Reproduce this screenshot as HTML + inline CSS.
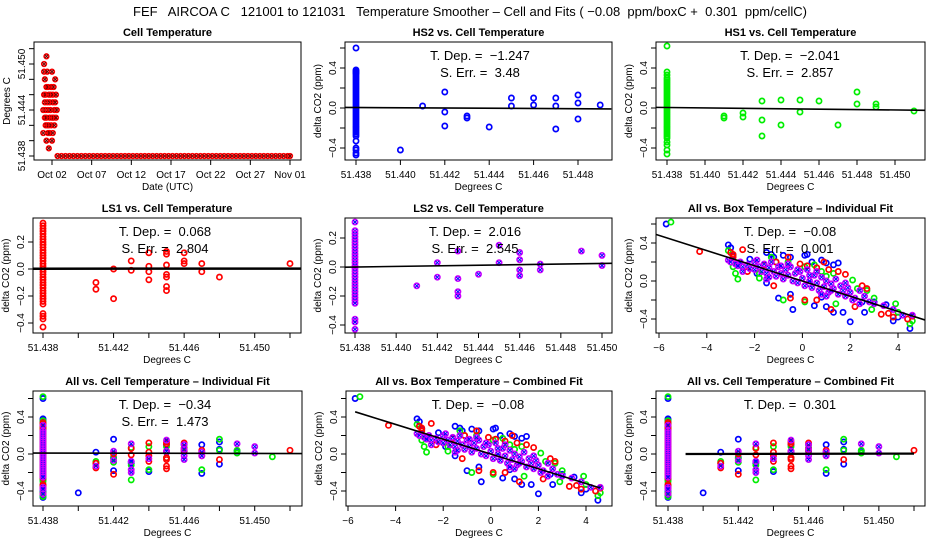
<!DOCTYPE html>
<html><head><meta charset="utf-8"><style>
body{margin:0;background:#fff}
svg{display:block;font-family:"Liberation Sans",sans-serif}
text{white-space:pre}
</style></head><body>
<svg id="c" width="936" height="540" viewBox="0 0 936 540" xmlns="http://www.w3.org/2000/svg" xml:space="preserve">
<rect width="936" height="540" fill="#fff"/>
<text x="470" y="16" font-size="13" text-anchor="middle">FEF   AIRCOA C   121001 to 121031   Temperature Smoother – Cell and Fits ( −0.08  ppm/boxC +  0.301  ppm/cellC)</text>
</svg>
<script>
// ---------- data ----------
const cellDays = [0.9,0.9,1.0,1.0,1.0,1.1,1.1,1.1,1.2,1.2,1.2,1.3,1.3,1.3,1.3,1.4,1.4,1.4,1.5,1.5,1.5,1.6,1.6,1.6,1.7,1.7,1.7,1.8,1.8,1.9,1.9,2.0,2.0,2.0,2.1,2.1,2.1,2.2,2.2,2.3,2.3,2.4,2.4,2.5,2.5,2.6];
const cellTemp = [51.441,51.444,51.446,51.449,51.450,51.443,51.445,51.448,51.442,51.444,51.446,51.440,51.443,51.447,51.451,51.442,51.445,51.449,51.441,51.444,51.447,51.439,51.442,51.446,51.441,51.443,51.445,51.444,51.446,51.442,51.447,51.440,51.443,51.449,51.441,51.445,51.446,51.443,51.447,51.442,51.444,51.448,51.445,51.443,51.446,51.444];
const flatDays = [2.7,3.2,3.7,4.2,4.7,5.2,5.7,6.2,6.7,7.2,7.7,8.2,8.7,9.2,9.7,10.2,10.7,11.2,11.7,12.2,12.7,13.2,13.7,14.2,14.7,15.2,15.7,16.2,16.7,17.2,17.7,18.2,18.7,19.2,19.7,20.2,20.7,21.2,21.7,22.2,22.7,23.2,23.7,24.2,24.7,25.2,25.7,26.2,26.7,27.2,27.7,28.2,28.7,29.2,29.7,30.2,30.7,31.2,31.7,32.0];
const flatTemp = 51.438;
const dayTicks = [2,7,12,17,22,27,32];
const dayLabels = ["Oct 02","Oct 07","Oct 12","Oct 17","Oct 22","Oct 27","Nov 01"];

const colY_hs2 = [0.6,0.38,0.37,0.36,0.35,0.34,0.32,0.3,0.28,0.26,0.24,0.22,0.2,0.18,0.16,0.14,0.12,0.1,0.08,0.06,0.04,0.02,0,-0.02,-0.04,-0.06,-0.08,-0.1,-0.12,-0.14,-0.16,-0.18,-0.2,-0.22,-0.24,-0.26,-0.28,-0.33,-0.4,-0.42,-0.45,-0.47];
const colY_hs1 = [0.62,0.36,0.33,0.3,0.28,0.26,0.24,0.22,0.2,0.18,0.16,0.14,0.12,0.1,0.08,0.06,0.04,0.02,0,-0.02,-0.04,-0.06,-0.08,-0.1,-0.12,-0.14,-0.16,-0.18,-0.2,-0.22,-0.24,-0.26,-0.28,-0.3,-0.34,-0.37,-0.42,-0.46];
const colY_ls1 = [0.34,0.32,0.3,0.28,0.26,0.24,0.22,0.2,0.18,0.16,0.14,0.12,0.1,0.08,0.06,0.04,0.02,0,-0.02,-0.04,-0.06,-0.08,-0.1,-0.12,-0.14,-0.16,-0.18,-0.2,-0.22,-0.24,-0.26,-0.33,-0.35,-0.37,-0.43];
const colY_ls2 = [0.31,0.25,0.23,0.21,0.19,0.17,0.15,0.13,0.11,0.09,0.07,0.05,0.03,0.01,-0.01,-0.03,-0.05,-0.07,-0.09,-0.11,-0.13,-0.15,-0.17,-0.19,-0.21,-0.23,-0.25,-0.36,-0.38,-0.43];

const hs2X = [51.440,51.441,51.442,51.442,51.442,51.443,51.443,51.444,51.445,51.445,51.446,51.446,51.447,51.447,51.447,51.448,51.448,51.448,51.449];
const hs2Y = [-0.42,0.02,0.16,-0.04,-0.18,-0.08,-0.10,-0.19,0.02,0.10,0.10,0.03,0.10,-0.21,0.02,0.13,0.05,-0.11,0.03];
const hs1X = [51.441,51.441,51.442,51.442,51.443,51.443,51.443,51.444,51.444,51.445,51.445,51.446,51.447,51.448,51.448,51.449,51.449,51.451];
const hs1Y = [-0.08,-0.10,-0.05,-0.09,0.07,-0.12,-0.28,0.08,-0.17,-0.04,0.08,0.07,-0.17,0.16,0.04,0.04,0.01,-0.03];
const ls1X = [51.441,51.441,51.442,51.442,51.443,51.443,51.444,51.444,51.444,51.444,51.445,51.445,51.445,51.445,51.445,51.445,51.445,51.446,51.446,51.446,51.447,51.447,51.448,51.452];
const ls1Y = [-0.10,-0.15,0.00,-0.22,0.06,-0.01,0.12,0.02,-0.02,-0.08,0.13,0.11,0.03,-0.04,-0.06,-0.13,-0.16,0.12,0.06,0.04,0.04,-0.02,-0.06,0.04];
const ls2X = [51.441,51.442,51.442,51.443,51.443,51.443,51.443,51.444,51.445,51.445,51.446,51.446,51.446,51.446,51.447,51.447,51.449,51.450,51.450];
const ls2Y = [-0.13,0.03,-0.07,0.11,-0.08,-0.17,-0.20,-0.05,0.15,0.03,0.10,0.05,-0.02,-0.06,0.02,-0.02,0.11,0.08,0.01];

const boxX_hs2 = [-5.7,-3.1,-3.0,-2.9,-2.2,-1.9,-1.5,-1.3,-1.2,-0.8,-0.5,0.1,0.2,0.4,0.8,1.0,1.3,1.5,-1.5,-1.0,-0.5,-0.4,0.5,0.8,1.0,1.3,1.7,2.0,2.5,2.6,3.0,3.5,3.8,4.0,4.5,-2.7,0.3];
const boxY_hs2 = [0.6,0.38,0.35,0.27,0.23,0.08,0.3,0.28,0.25,0.27,0.25,0.27,0.28,0.2,0.22,0.19,0.17,0.19,-0.02,-0.18,-0.14,-0.3,-0.26,-0.17,-0.27,-0.33,-0.33,-0.43,-0.22,-0.33,-0.22,-0.25,-0.42,-0.38,-0.5,0.18,-0.03];
const boxX_hs1 = [-5.5,-3.1,-2.9,-2.8,-2.7,-1.8,-1.3,-1.1,-0.6,0.1,0.5,0.8,1.0,1.3,2.1,2.3,2.7,2.9,3.0,3.9,4.0,4.5,4.6,-0.8,0.1,1.4,-1.8];
const boxY_hs1 = [0.62,0.32,0.15,0.08,0.02,0.03,0.25,0.2,0.2,0.15,0.17,0.1,0.05,0.08,0.01,-0.08,-0.1,-0.3,-0.18,-0.24,-0.33,-0.45,-0.42,-0.2,-0.22,-0.24,0.08];
const boxX_ls1 = [-4.3,-3.0,-2.9,-2.5,-2.3,-1.6,-1.1,-0.6,-0.1,0.2,0.6,1.1,1.5,1.8,2.5,2.7,-1.2,-0.5,0.1,0.6,1.2,2.2,3.3,3.6,3.8,4.4,4.6,0.9,-2.9];
const boxY_ls1 = [0.31,0.3,0.28,0.33,0.1,0.17,0.2,0.25,0.18,0.16,0.14,0.12,0.1,0.07,-0.05,-0.08,-0.05,-0.18,-0.2,-0.2,-0.3,-0.27,-0.35,-0.34,-0.38,-0.4,-0.37,0.2,0.25];
const boxX_ls2 = [-3.1,-3.0,-2.8,-2.6,-2.5,-2.3,-2.2,-2.0,-2.0,-1.8,-1.7,-1.6,-1.5,-1.4,-1.3,-1.2,-1.1,-1.0,-0.9,-0.8,-0.7,-0.6,-0.5,-0.4,-0.3,-0.2,-0.1,0.0,0.1,0.2,0.3,0.4,0.5,0.6,0.7,0.8,0.9,1.0,1.1,1.2,1.3,1.4,1.5,1.6,1.7,1.8,1.9,2.0,2.2,2.4,2.6,2.8,3.0,3.4,3.8,4.2,4.6,-0.6,0.6,-1.5,1.0,-2.5,2.4,-1.9,-0.9,0.3,1.2,2.1,-2.7,-1.4,-0.2,0.8,1.8];
const boxY_ls2 = [0.22,0.2,0.18,0.2,0.15,0.17,0.13,0.2,0.12,0.15,0.1,0.18,0.08,0.14,0.2,0.1,0.05,0.15,0.08,0.02,0.12,0.06,0.15,0.0,0.08,-0.02,0.1,0.03,-0.05,0.12,0.0,-0.07,0.06,-0.02,-0.1,0.04,-0.06,0.0,-0.12,-0.03,-0.08,0.02,-0.14,-0.05,-0.1,-0.16,-0.07,-0.12,-0.18,-0.1,-0.16,-0.22,-0.24,-0.26,-0.3,-0.36,-0.36,0.18,0.1,0.02,-0.16,0.1,-0.24,0.22,0.16,0.06,-0.1,-0.2,0.16,0.04,0.12,-0.14,-0.02];

const tdep = {hs2:-1.247, hs1:-2.041, ls1:0.068, ls2:2.016, boxInd:-0.08, cellInd:-0.34, boxComb:-0.08, cellComb:0.301};
const serr = {hs2:"3.48", hs1:"2.857", ls1:"2.804", ls2:"2.545", boxInd:"0.001", cellInd:"1.473"};

// ---------- drawing ----------
const svg = document.getElementById('c');
const NS = 'http://www.w3.org/2000/svg';
function el(tag, attrs, parent){const e=document.createElementNS(NS,tag);for(const k in attrs)e.setAttribute(k,attrs[k]);(parent||svg).appendChild(e);return e;}
function lin(d0,d1,p0,p1){return v=>p0+(v-d0)*(p1-p0)/(d1-d0);}
const COL = {blue:'#0000ff', green:'#00ee00', red:'#ff0000', purple:'#cc00ff'};

function panel(o){
  const g = el('g',{});
  
  
  const [L,T,R,B] = o.box;
  const sx = lin(o.xd[0],o.xd[1],o.xp[0],o.xp[1]);
  const sy = lin(o.yd[0],o.yd[1],o.yp[0],o.yp[1]);
  const t = el('text',{x:(L+R)/2,y:T-6,'font-size':11,'font-weight':'bold','text-anchor':'middle'},g);
  
  
  t.textContent = o.title;
  const xa = el('g',{},g);
  
  
  el('line',{x1:sx(o.xt[0]),x2:sx(o.xt[o.xt.length-1]),y1:B,y2:B,stroke:'#000'},xa);
  o.xt.forEach((v,i)=>{
    el('line',{x1:sx(v),x2:sx(v),y1:B,y2:B+5,stroke:'#000'},xa);
    const lab = o.xl[i];
    if(lab){const tx=el('text',{x:sx(v),y:B+18,'font-size':10,'text-anchor':'middle'},xa);
      
      
      tx.textContent=lab;}
  });
  const xt = el('text',{x:(L+R)/2,y:B+30,'font-size':10,'text-anchor':'middle'},g);
  
  
  xt.textContent = o.xtitle;
  const ya = el('g',{},g);
  
  
  el('line',{x1:L,x2:L,y1:sy(o.yt[0]),y2:sy(o.yt[o.yt.length-1]),stroke:'#000'},ya);
  o.yt.forEach((v,i)=>{
    el('line',{x1:L-5,x2:L,y1:sy(v),y2:sy(v),stroke:'#000'},ya);
    const lab=o.yl[i];
    if(lab){const ty=el('text',{x:L-9,y:sy(v),'font-size':10,'text-anchor':'middle',transform:`rotate(-90 ${L-9} ${sy(v)})`},ya);
      
      
      ty.textContent=lab;}
  });
  const yt = el('text',{x:L-24,y:(T+B)/2,'font-size':10,'text-anchor':'middle',transform:`rotate(-90 ${L-24} ${(T+B)/2})`},g);
  
  
  yt.textContent = o.ytitle;
  const cid='clip'+o.name;
  const cp=el('clipPath',{id:cid},g); el('rect',{x:L,y:T,width:R-L,height:B-T},cp);
  const pg=el('g',{'clip-path':`url(#${cid})`},g);
  (o.series||[]).forEach(s=>{
    const sg=el('g',{},pg);
    
    
    s.x.forEach((xv,i)=>{
      const px=sx(xv), py=sy(s.y[i]);
      el('circle',{cx:px,cy:py,r:s.r||2.6,fill:'none',stroke:s.c,'stroke-width':1.7},sg);
      if(s.x2){el('path',{d:`M${px-1.8} ${py-1.8}L${px+1.8} ${py+1.8}M${px-1.8} ${py+1.8}L${px+1.8} ${py-1.8}`,stroke:s.x2,'stroke-width':1},sg);}
    });
  });
  if(o.fit){
    const f=o.fit; const x0=f.from, x1=f.to;
    const fl=el('line',{x1:sx(x0),y1:sy(f.a+f.b*(x0-f.x0)),x2:sx(x1),y2:sy(f.a+f.b*(x1-f.x0)),stroke:'#000','stroke-width':f.w||1.6},pg);
    
    
  }
  el('rect',{x:L,y:T,width:R-L,height:B-T,fill:'none',stroke:'#000','stroke-width':1},g);
  (o.ann||[]).forEach((a,i)=>{
    const at=el('text',{x:o.annX,y:T+18+i*17,'font-size':13,'text-anchor':'middle'},g);
    
    
    at.textContent=a;
  });
}
function col(x,ys){return ys.map(()=>x);}
const YT1=[-0.4,-0.2,0,0.2,0.4,0.6], YL1=['−0.4','','0.0','','0.4',''];
const YT2=[-0.4,-0.2,0,0.2], YL2=['−0.4','−0.2','0.0','0.2'];
const fmt=v=>(v<0?'−':'')+Math.abs(v);
const cellSeries = ()=>[
  {name:'hs2-points',c:COL.blue,x:col(51.438,colY_hs2).concat(hs2X),y:colY_hs2.concat(hs2Y)},
  {name:'hs1-points',c:COL.green,x:col(51.438,colY_hs1).concat(hs1X),y:colY_hs1.concat(hs1Y)},
  {name:'ls1-points',c:COL.red,x:col(51.438,colY_ls1).concat(ls1X),y:colY_ls1.concat(ls1Y)},
  {name:'ls2-points',c:COL.purple,x2:COL.blue,x:col(51.438,colY_ls2).concat(ls2X),y:colY_ls2.concat(ls2Y)}];
const boxSeries = [
  {name:'hs2-points',c:COL.blue,x:boxX_hs2,y:boxY_hs2},
  {name:'hs1-points',c:COL.green,x:boxX_hs1,y:boxY_hs1},
  {name:'ls1-points',c:COL.red,x:boxX_ls1,y:boxY_ls1},
  {name:'ls2-points',c:COL.purple,x2:COL.blue,x:boxX_ls2,y:boxY_ls2}];
const cellT7=[51.438,51.440,51.442,51.444,51.446,51.448,51.450,51.452];
const cellL7=['51.438','','51.442','','51.446','','51.450',''];

panel({name:'cell-temperature-panel',title:'Cell Temperature',box:[34,42,301,160],xd:[2,32],xp:[52,290],yd:[51.438,51.450],yp:[156,64],
  xt:dayTicks,xl:dayLabels,yt:[51.438,51.440,51.442,51.444,51.446,51.448,51.450,51.452],yl:['51.438','','','51.444','','','51.450',''],
  xtitle:'Date (UTC)',ytitle:'Degrees C',
  series:[{name:'cell-temp-early',c:COL.red,x2:'#600',r:2.3,x:cellDays,y:cellTemp},
          {name:'cell-temp-flat',c:COL.red,x2:'#600',r:2.3,x:flatDays,y:flatDays.map(()=>flatTemp)}]});
panel({name:'hs2-panel',title:'HS2 vs. Cell Temperature',box:[345,42,612,160],xd:[51.438,51.448],xp:[356,578],yd:[0,0.4],yp:[108,68],
  xt:[51.438,51.440,51.442,51.444,51.446,51.448],xl:['51.438','51.440','51.442','51.444','51.446','51.448'],yt:YT1,yl:YL1,
  xtitle:'Degrees C',ytitle:'delta CO2 (ppm)',series:[{name:'hs2-points',c:COL.blue,x:col(51.438,colY_hs2).concat(hs2X),y:colY_hs2.concat(hs2Y)}],
  fit:{x0:51.438,a:0.005,b:tdep.hs2,from:51.437,to:51.4495},annX:480,ann:['T. Dep. =  '+fmt(tdep.hs2),'S. Err. =  '+serr.hs2]});
panel({name:'hs1-panel',title:'HS1 vs. Cell Temperature',box:[656,42,925,160],xd:[51.438,51.450],xp:[667,895],yd:[0,0.4],yp:[108,68],
  xt:[51.438,51.440,51.442,51.444,51.446,51.448,51.450],xl:['51.438','51.440','51.442','51.444','51.446','51.448','51.450'],yt:YT1,yl:YL1,
  xtitle:'Degrees C',ytitle:'delta CO2 (ppm)',series:[{name:'hs1-points',c:COL.green,x:col(51.438,colY_hs1).concat(hs1X),y:colY_hs1.concat(hs1Y)}],
  fit:{x0:51.438,a:0.005,b:tdep.hs1,from:51.437,to:51.452},annX:790,ann:['T. Dep. =  '+fmt(tdep.hs1),'S. Err. =  '+serr.hs1]});
panel({name:'ls1-panel',title:'LS1 vs. Cell Temperature',box:[33,218,301,333],xd:[51.438,51.452],xp:[43,290],yd:[0,0.2],yp:[269,242],
  xt:cellT7,xl:cellL7,yt:YT2,yl:YL2,
  xtitle:'Degrees C',ytitle:'delta CO2 (ppm)',series:[{name:'ls1-points',c:COL.red,x:col(51.438,colY_ls1).concat(ls1X),y:colY_ls1.concat(ls1Y)}],
  fit:{x0:51.438,a:0.002,b:tdep.ls1,from:51.437,to:51.453,w:2.5},annX:165,ann:['T. Dep. =  '+fmt(tdep.ls1),'S. Err. =  '+serr.ls1]});
panel({name:'ls2-panel',title:'LS2 vs. Cell Temperature',box:[345,218,612,333],xd:[51.438,51.450],xp:[355,602],yd:[0,0.2],yp:[267,238],
  xt:[51.438,51.440,51.442,51.444,51.446,51.448,51.450],xl:['51.438','51.440','51.442','51.444','51.446','51.448','51.450'],yt:YT2,yl:YL2,
  xtitle:'Degrees C',ytitle:'delta CO2 (ppm)',series:[{name:'ls2-points',c:COL.purple,x2:COL.blue,x:col(51.438,colY_ls2).concat(ls2X),y:colY_ls2.concat(ls2Y)}],
  fit:{x0:51.438,a:0.0,b:tdep.ls2,from:51.437,to:51.4505,w:1.6},annX:475,ann:['T. Dep. =  '+fmt(tdep.ls2),'S. Err. =  '+serr.ls2]});
panel({name:'all-box-individual-panel',title:'All vs. Box Temperature – Individual Fit',box:[656,218,925,333],xd:[-6,4],xp:[659,898],yd:[0,0.4],yp:[281,243],
  xt:[-6,-4,-2,0,2,4],xl:['−6','−4','−2','0','2','4'],yt:YT1,yl:YL1,
  xtitle:'Degrees C',ytitle:'delta CO2 (ppm)',series:boxSeries,
  fit:{x0:0,a:0.0,b:tdep.boxInd,from:-6.2,to:5.2},annX:790,ann:['T. Dep. =  '+fmt(tdep.boxInd),'S. Err. =  '+serr.boxInd]});
panel({name:'all-cell-individual-panel',title:'All vs. Cell Temperature – Individual Fit',box:[33,391,302,506],xd:[51.438,51.452],xp:[43,290],yd:[0,0.4],yp:[454,417],
  xt:cellT7,xl:cellL7,yt:YT1,yl:YL1,
  xtitle:'Degrees C',ytitle:'delta CO2 (ppm)',series:cellSeries(),
  fit:{x0:51.438,a:0.01,b:tdep.cellInd,from:51.437,to:51.453},annX:165,ann:['T. Dep. =  '+fmt(tdep.cellInd),'S. Err. =  '+serr.cellInd]});
panel({name:'all-box-combined-panel',title:'All vs. Box Temperature – Combined Fit',box:[346,391,612,506],xd:[-6,4],xp:[348,586],yd:[0,0.4],yp:[454,417],
  xt:[-6,-4,-2,0,2,4],xl:['−6','−4','−2','0','2','4'],yt:YT1,yl:YL1,
  xtitle:'Degrees C',ytitle:'delta CO2 (ppm)',series:boxSeries,
  fit:{x0:0,a:0.0,b:tdep.boxComb,from:-5.7,to:4.6},annX:478,ann:['T. Dep. =  '+fmt(tdep.boxComb)]});
panel({name:'all-cell-combined-panel',title:'All vs. Cell Temperature – Combined Fit',box:[656,391,925,506],xd:[51.438,51.452],xp:[668,914],yd:[0,0.4],yp:[454,417],
  xt:cellT7,xl:cellL7,yt:YT1,yl:YL1,
  xtitle:'Degrees C',ytitle:'delta CO2 (ppm)',series:cellSeries(),
  fit:{x0:51.438,a:0.0,b:tdep.cellComb,from:51.439,to:51.452,w:2.2},annX:790,ann:['T. Dep. =  '+fmt(tdep.cellComb)]});
</script>
</body></html>
